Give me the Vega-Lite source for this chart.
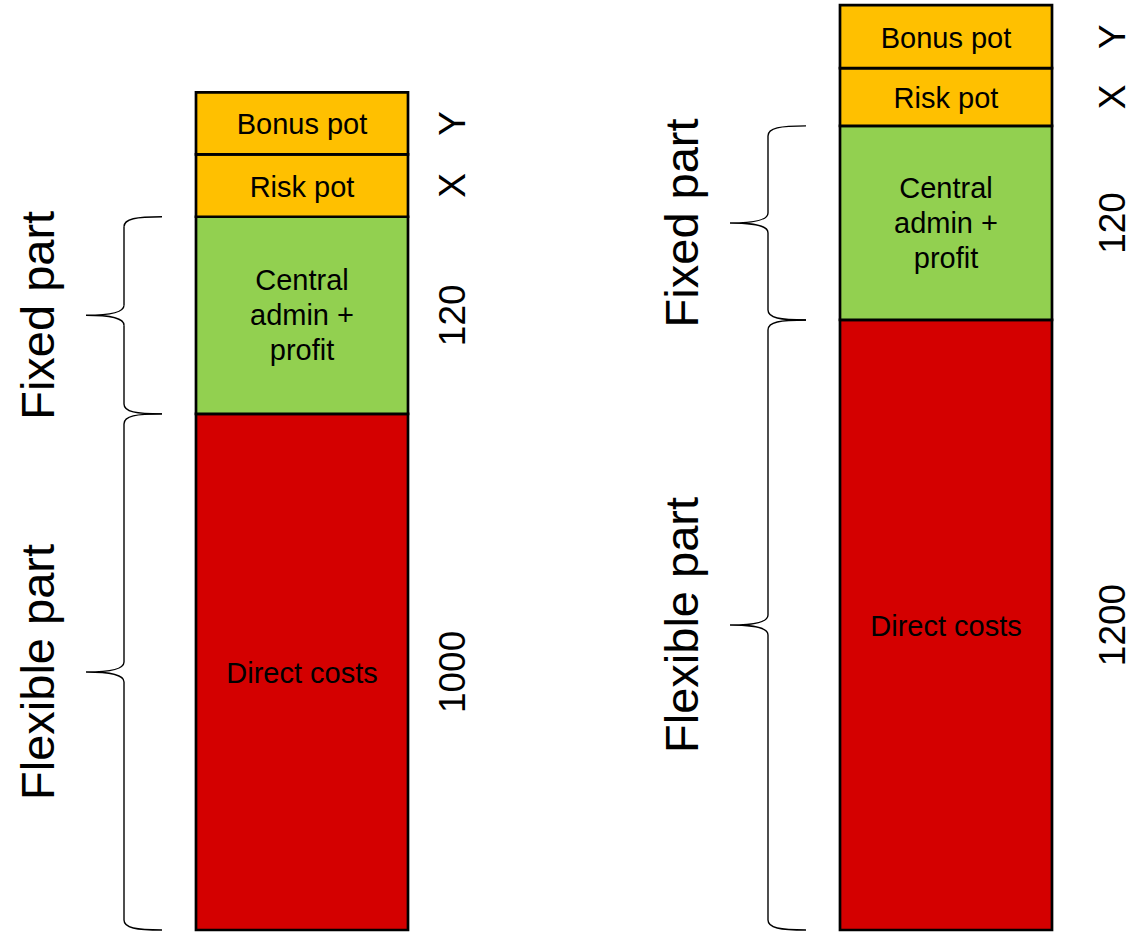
{
  "$schema": "https://vega.github.io/schema/vega-lite/v6.json",
  "width": 856,
  "height": 929,
  "autosize": {"type": "none"},
  "padding": {"left": 196, "right": 86, "top": 1, "bottom": 5},
  "background": "white",
  "config": {"view": {"stroke": null}, "text": {"font": "Liberation Sans", "color": "black"}},
  "data": {
    "values": [
      {"scenario": "Scenario 1", "item": "Direct costs", "label": "Direct costs", "size": 1000, "value": "1000", "part": "Flexible part", "order": 1},
      {"scenario": "Scenario 1", "item": "Central admin + profit", "label": "Central\nadmin +\nprofit", "size": 382, "value": "120", "part": "Fixed part", "order": 2},
      {"scenario": "Scenario 1", "item": "Risk pot", "label": "Risk pot", "size": 121, "value": "X", "order": 3},
      {"scenario": "Scenario 1", "item": "Bonus pot", "label": "Bonus pot", "size": 120, "value": "Y", "order": 4},
      {"scenario": "Scenario 2", "item": "Direct costs", "label": "Direct costs", "size": 1182, "value": "1200", "part": "Flexible part", "order": 1},
      {"scenario": "Scenario 2", "item": "Central admin + profit", "label": "Central\nadmin +\nprofit", "size": 376, "value": "120", "part": "Fixed part", "order": 2},
      {"scenario": "Scenario 2", "item": "Risk pot", "label": "Risk pot", "size": 112, "value": "X", "order": 3},
      {"scenario": "Scenario 2", "item": "Bonus pot", "label": "Bonus pot", "size": 122, "value": "Y", "order": 4}
    ]
  },
  "transform": [
    {"stack": "size", "groupby": ["scenario"], "sort": [{"field": "order", "order": "ascending"}], "as": ["y0", "y1"]},
    {"calculate": "(datum.y0 + datum.y1) / 2", "as": "mid"}
  ],
  "encoding": {
    "x": {"field": "scenario", "type": "nominal", "axis": null, "scale": {"paddingInner": 0.6708, "paddingOuter": 0}}
  },
  "layer": [
    {
      "mark": {"type": "bar", "stroke": "black", "strokeWidth": 2.7},
      "encoding": {
        "y": {"field": "y0", "type": "quantitative", "axis": null, "scale": {"domain": [0, 1800], "nice": false, "zero": true}},
        "y2": {"field": "y1"},
        "color": {
          "field": "item", "type": "nominal", "legend": null,
          "scale": {"domain": ["Direct costs", "Central admin + profit", "Risk pot", "Bonus pot"], "range": ["#D40000", "#92D050", "#FFC000", "#FFC000"]}
        }
      }
    },
    {
      "transform": [{"filter": "datum.order != 2"}],
      "mark": {"type": "text", "fontSize": 29, "baseline": "middle", "align": "center", "dy": 2},
      "encoding": {
        "y": {"field": "mid", "type": "quantitative", "axis": null, "scale": {"domain": [0, 1800], "nice": false}},
        "text": {"field": "label"}
      }
    },
    {
      "transform": [{"filter": "datum.order == 2"}],
      "mark": {"type": "text", "fontSize": 29, "lineBreak": "\n", "lineHeight": 35, "baseline": "middle", "align": "center", "dy": -34},
      "encoding": {
        "y": {"field": "mid", "type": "quantitative", "axis": null, "scale": {"domain": [0, 1800], "nice": false}},
        "text": {"field": "label"}
      }
    },
    {
      "transform": [{"filter": "datum.scenario == 'Scenario 1'"}],
      "mark": {"type": "text", "fontSize": 37, "angle": 270, "baseline": "middle", "align": "center", "xOffset": 152},
      "encoding": {
        "y": {"field": "mid", "type": "quantitative", "axis": null, "scale": {"domain": [0, 1800], "nice": false}},
        "text": {"field": "value"}
      }
    },
    {
      "transform": [{"filter": "datum.scenario == 'Scenario 2'"}],
      "mark": {"type": "text", "fontSize": 37, "angle": 270, "baseline": "middle", "align": "center", "xOffset": 168},
      "encoding": {
        "y": {"field": "mid", "type": "quantitative", "axis": null, "scale": {"domain": [0, 1800], "nice": false}},
        "text": {"field": "value"}
      }
    },
    {
      "transform": [{"filter": "isValid(datum.part)"}],
      "mark": {"type": "text", "fontSize": 47, "angle": 270, "baseline": "middle", "align": "center", "xOffset": -262},
      "encoding": {
        "y": {"field": "mid", "type": "quantitative", "axis": null, "scale": {"domain": [0, 1800], "nice": false}},
        "text": {"field": "part"}
      }
    },
    {
      "transform": [{"filter": "isValid(datum.part)"}],
      "mark": {"type": "rule", "color": "black", "strokeWidth": 1.4, "xOffset": -178, "yOffset": 10, "y2Offset": -10},
      "encoding": {
        "y": {"field": "y1", "type": "quantitative", "axis": null, "scale": {"domain": [0, 1800], "nice": false}},
        "y2": {"field": "mid"}
      }
    },
    {
      "transform": [{"filter": "isValid(datum.part)"}],
      "mark": {"type": "rule", "color": "black", "strokeWidth": 1.4, "xOffset": -178, "yOffset": 10, "y2Offset": -10},
      "encoding": {
        "y": {"field": "mid", "type": "quantitative", "axis": null, "scale": {"domain": [0, 1800], "nice": false}},
        "y2": {"field": "y0"}
      }
    },
    {
      "transform": [{"filter": "isValid(datum.part)"}],
      "mark": {"type": "point", "shape": "M 38 0 C 12 0 0 2 0 10", "size": 4, "filled": false, "stroke": "black", "strokeWidth": 1.4, "opacity": 1, "xOffset": -178},
      "encoding": {
        "y": {"field": "y1", "type": "quantitative", "axis": null, "scale": {"domain": [0, 1800], "nice": false}}
      }
    },
    {
      "transform": [{"filter": "isValid(datum.part)"}],
      "mark": {"type": "point", "shape": "M 0 -10 C 0 -3 -12 0 -38 0 C -12 0 0 3 0 10", "size": 4, "filled": false, "stroke": "black", "strokeWidth": 1.4, "opacity": 1, "xOffset": -178},
      "encoding": {
        "y": {"field": "mid", "type": "quantitative", "axis": null, "scale": {"domain": [0, 1800], "nice": false}}
      }
    },
    {
      "transform": [{"filter": "isValid(datum.part)"}],
      "mark": {"type": "point", "shape": "M 38 0 C 12 0 0 -2 0 -10", "size": 4, "filled": false, "stroke": "black", "strokeWidth": 1.4, "opacity": 1, "xOffset": -178},
      "encoding": {
        "y": {"field": "y0", "type": "quantitative", "axis": null, "scale": {"domain": [0, 1800], "nice": false}}
      }
    }
  ]
}
